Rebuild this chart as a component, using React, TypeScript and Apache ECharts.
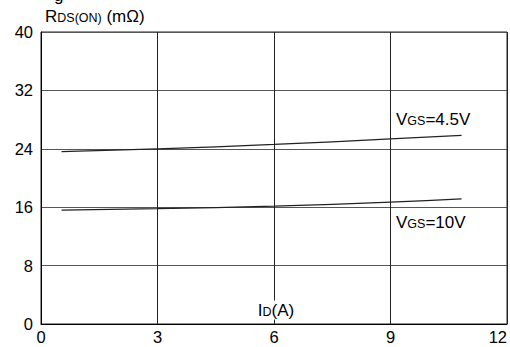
import React, { useEffect, useRef } from "react";
import * as echarts from "echarts";

const idTicks = [0, 3, 6, 9, 12];
const rdsTicks = [0, 8, 16, 24, 32, 40];
const vgs45Id = [0.53, 3, 6, 9, 10.83];
const vgs45Rds = [23.6, 24.0, 24.6, 25.35, 25.85];
const vgs10Id = [0.53, 3, 6, 9, 10.83];
const vgs10Rds = [15.6, 15.8, 16.15, 16.7, 17.15];

const FONT = "'Liberation Sans', Arial, sans-serif";

const rich = {
  a: { fontSize: 17, lineHeight: 17, fontFamily: FONT, color: "#000", verticalAlign: "bottom" as const },
  b: { fontSize: 12.5, lineHeight: 14, fontFamily: FONT, color: "#000", verticalAlign: "bottom" as const },
};

export default function App() {
  const ref = useRef<HTMLDivElement>(null);
  useEffect(() => {
    document.body.style.margin = "0";
    const chart = echarts.init(ref.current!, null, { renderer: "svg" });
    chart.setOption({
      animation: false,
      backgroundColor: "#fff",
      grid: {
        left: 41,
        right: 3,
        top: 32,
        bottom: 23,
        show: true,
        borderColor: "#222",
        borderWidth: 1,
        containLabel: false,
        outerBoundsMode: "none",
      },
      xAxis: {
        type: "value",
        min: idTicks[0],
        max: idTicks[idTicks.length - 1],
        interval: 3,
        axisLine: { show: true, lineStyle: { color: "#000", width: 1 } },
        axisTick: { show: false },
        axisLabel: {
          fontSize: 16.5,
          color: "#000",
          fontFamily: FONT,
          margin: 4,
          alignMaxLabel: "right",
        },
        splitLine: { show: true, lineStyle: { color: "#222", width: 1 } },
      },
      yAxis: {
        type: "value",
        min: rdsTicks[0],
        max: rdsTicks[rdsTicks.length - 1],
        interval: 8,
        axisLine: { show: true, lineStyle: { color: "#000", width: 1 } },
        axisTick: { show: false },
        axisLabel: { fontSize: 16.5, color: "#000", fontFamily: FONT, margin: 8 },
        splitLine: { show: true, lineStyle: { color: "#555", width: 1 } },
      },
      series: [
        {
          name: "VGS=4.5V",
          type: "line",
          smooth: true,
          symbol: "none",
          data: vgs45Id.map((x, i) => [x, vgs45Rds[i]]),
          lineStyle: { color: "#222", width: 1.3 },
        },
        {
          name: "VGS=10V",
          type: "line",
          smooth: true,
          symbol: "none",
          data: vgs10Id.map((x, i) => [x, vgs10Rds[i]]),
          lineStyle: { color: "#222", width: 1.3 },
        },
      ],
      graphic: [
        {
          type: "text",
          left: 54,
          top: -13,
          style: { text: "g", fontSize: 17, fontFamily: FONT, fill: "#000" },
        },
        {
          type: "text",
          x: 45,
          y: 16,
          style: {
            text: "{a|R}{b|DS(ON)}{a| (mΩ)}",
            rich,
            verticalAlign: "middle",
          },
        },
        {
          type: "text",
          x: 276,
          y: 310,
          z: 100,
          style: {
            text: "{a|I}{b|D}{a|(A)}",
            rich,
            align: "center",
            verticalAlign: "middle",
            backgroundColor: "#fff",
            padding: [1, 1, 1, 1],
          },
        },
        {
          type: "text",
          x: 396,
          y: 119,
          style: {
            text: "{a|V}{b|GS}{a|=4.5V}",
            rich,
            verticalAlign: "middle",
          },
        },
        {
          type: "text",
          x: 396,
          y: 222,
          style: {
            text: "{a|V}{b|GS}{a|=10V}",
            rich,
            verticalAlign: "middle",
          },
        },
      ],
    });
    return () => chart.dispose();
  }, []);
  return <div ref={ref} style={{ width: 510, height: 347 }} />;
}
